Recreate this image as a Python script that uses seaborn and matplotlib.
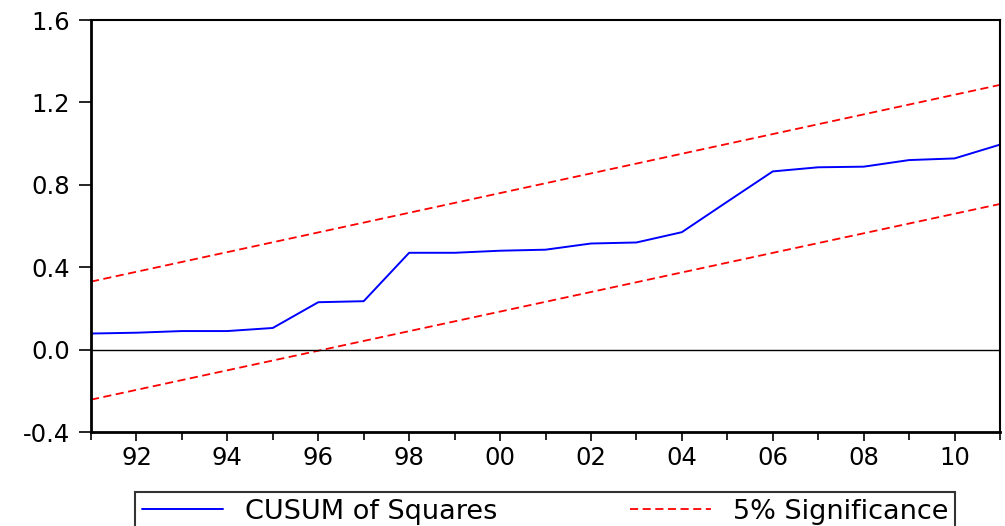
import matplotlib
matplotlib.use("Agg")
import matplotlib.pyplot as plt
import seaborn as sns
import pandas as pd

years = list(range(1991, 2012))
cusum_sq = [0.078, 0.082, 0.090, 0.090, 0.105, 0.230, 0.235, 0.470, 0.470, 0.480,
            0.485, 0.515, 0.520, 0.570, 0.718, 0.865, 0.885, 0.888, 0.920, 0.928, 0.995]
bound_years = [1991, 2011]
upper_bound = [0.330, 1.285]
lower_bound = [-0.243, 0.707]
y_ticks = [-0.4, 0.0, 0.4, 0.8, 1.2, 1.6]
x_major = [1992, 1994, 1996, 1998, 2000, 2002, 2004, 2006, 2008, 2010]
x_labels = ["92", "94", "96", "98", "00", "02", "04", "06", "08", "10"]

sns.set_theme(style="ticks")
plt.rcParams["font.family"] = ["DejaVu Sans"]
plt.rcParams["text.color"] = "black"

fig = plt.figure(figsize=(10.05, 5.26), dpi=100)
ax = fig.add_axes([91/1005, 1 - 432/526, (1000 - 91)/1005, (432 - 20)/526])

df = pd.DataFrame({"year": years, "value": cusum_sq})
sns.lineplot(data=df, x="year", y="value", ax=ax, color="#0000ff", lw=1.4,
             label="CUSUM of Squares")
bd = pd.DataFrame({"year": bound_years, "up": upper_bound, "lo": lower_bound})
sns.lineplot(data=bd, x="year", y="up", ax=ax, color="#ff0000", lw=1.3,
             label="5% Significance")
ax.lines[-1].set_dashes([4.5, 2.5])
sns.lineplot(data=bd, x="year", y="lo", ax=ax, color="#ff0000", lw=1.3)
ax.lines[-1].set_dashes([4.5, 2.5])
ax.axhline(0, color="black", lw=1.0)

ax.set_xlim(1991, 2011)
ax.set_ylim(-0.4, 1.6)
ax.set_yticks(y_ticks)
ax.set_yticklabels([f"{v:.1f}" for v in y_ticks])
ax.set_xticks(x_major)
ax.set_xticklabels(x_labels)
ax.set_xticks(range(1991, 2012), minor=True)
ax.set_xlabel("")
ax.set_ylabel("")
ax.tick_params(axis="both", which="major", labelsize=17.5, width=1.2,
               color="black", labelcolor="black")
ax.tick_params(axis="x", which="major", length=6.5, pad=3.5)
ax.tick_params(axis="x", which="minor", length=6, width=1.2, color="black")
ax.tick_params(axis="y", which="major", length=9, pad=6)
for s in ["left", "bottom"]:
    ax.spines[s].set_linewidth(2.0)
for s in ["top", "right"]:
    ax.spines[s].set_linewidth(1.5)
for s in ax.spines.values():
    s.set_color("black")

ax.get_legend().remove()
h, l = ax.get_legend_handles_labels()
leg = fig.legend(h, l, loc="upper center", bbox_to_anchor=(545/1005, 1 - 492/526),
                 ncol=2, fontsize=19.5, frameon=True, fancybox=False,
                 handlelength=3.0, columnspacing=4.9, borderpad=0.25,
                 handletextpad=0.8, borderaxespad=0, edgecolor="black",
                 labelcolor="black")
leg.get_frame().set_linewidth(1.5)

fig.savefig("out.png", dpi=100)
